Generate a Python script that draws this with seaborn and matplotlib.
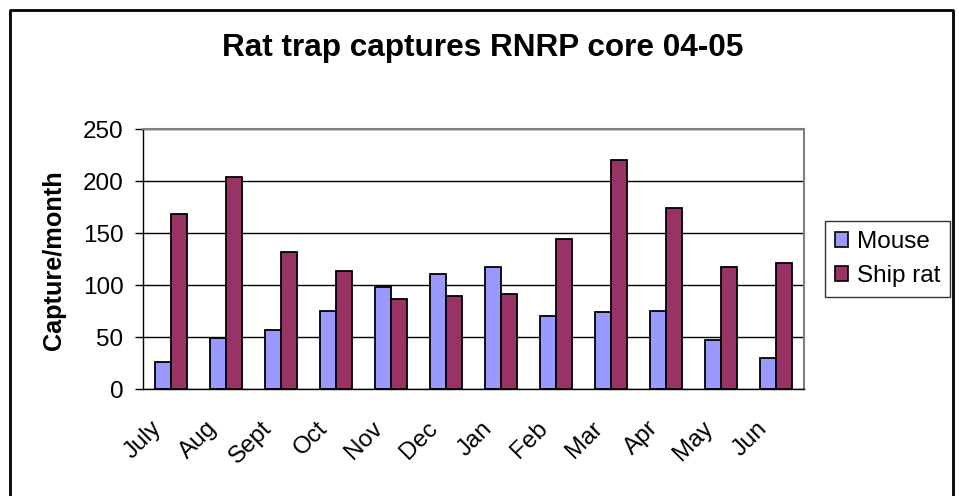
import numpy as np
import pandas as pd
import seaborn as sns
import matplotlib.pyplot as plt
from matplotlib.transforms import ScaledTranslation

# data
months = ['July', 'Aug', 'Sept', 'Oct', 'Nov', 'Dec', 'Jan', 'Feb', 'Mar', 'Apr', 'May', 'Jun']
mouse = [26, 49, 57, 75, 98, 111, 117, 70, 74, 75, 47, 30]
ship_rat = [168, 204, 132, 113, 87, 89, 91, 144, 220, 174, 117, 121]

df = pd.DataFrame({
    'month': months * 2,
    'captures': mouse + ship_rat,
    'species': ['Mouse'] * len(months) + ['Ship rat'] * len(months),
})

sns.set_style('white')
plt.rcParams['font.family'] = ['Liberation Sans', 'DejaVu Sans']
plt.rcParams['text.color'] = 'black'
plt.rcParams['axes.labelcolor'] = 'black'
plt.rcParams['xtick.color'] = 'black'
plt.rcParams['ytick.color'] = 'black'

fig = plt.figure(figsize=(9.59, 4.96), dpi=100)
ax = fig.add_axes([143 / 959, 1 - 389 / 496, 661 / 959, 260 / 496])

sns.barplot(data=df, x='month', y='captures', hue='species', order=months,
            palette={'Mouse': '#9999FF', 'Ship rat': '#993366'},
            width=0.58, edgecolor='black', linewidth=1.3, saturation=1,
            ax=ax, zorder=3)

ax.set_ylim(0, 250)
ax.set_xlim(-0.5, len(months) - 0.5)
ax.set_yticks(range(0, 251, 50))
ax.yaxis.grid(True, color='black', linewidth=1, zorder=0)
ax.set_axisbelow(True)

ax.set_xticks(np.arange(len(months)))
ax.set_xticklabels(months, rotation=45, ha='right', va='center',
                   rotation_mode='anchor', fontsize=17.5)
ax.set_xticks(np.arange(-0.5, len(months)), minor=True)
ax.tick_params(axis='x', which='major', length=0, pad=26)
ax.tick_params(axis='x', which='minor', length=6, width=1, color='black', direction='out')
ax.tick_params(axis='y', length=6, width=1, color='black', direction='out', labelsize=17.5, pad=8)
ax.tick_params(axis='both', bottom=True, left=True)

# nudge the slanted month labels left, like the original
shift = ScaledTranslation(-12 / 100, 0, fig.dpi_scale_trans)
for lbl in ax.get_xticklabels():
    lbl.set_transform(lbl.get_transform() + shift)

for side in ['top', 'right']:
    ax.spines[side].set_color('#808080')
    ax.spines[side].set_linewidth(1.5)
for side in ['left', 'bottom']:
    ax.spines[side].set_color('black')
    ax.spines[side].set_linewidth(1)

ax.set_xlabel('')
ax.set_ylabel('Capture/month', fontsize=18.2, fontweight='bold')
ax.yaxis.label.set_va('center')
ax.yaxis.set_label_coords(54 / 959, 1 - 260 / 496, transform=fig.transFigure)

fig.text(483 / 959, 1 - 48 / 496, 'Rat trap captures RNRP core 04-05',
         ha='center', va='center', fontsize=22.7, fontweight='bold')

leg = ax.legend(loc='center left', bbox_to_anchor=(825 / 959, 1 - 259 / 496),
                bbox_transform=fig.transFigure, frameon=True, fontsize=17.5,
                fancybox=False, edgecolor='black', handlelength=0.55, handleheight=0.55,
                handletextpad=0.35, borderpad=0.4, labelspacing=0.5, borderaxespad=0)
leg.get_frame().set_linewidth(1)
for h in leg.legend_handles:
    h.set_edgecolor('black')
    h.set_linewidth(1.2)

# outer chart border (open at the bottom as in the screenshot)
fig.add_artist(plt.Line2D([10 / 959, 10 / 959, 953 / 959, 953 / 959],
                          [0, 1 - 10 / 496, 1 - 10 / 496, 0],
                          transform=fig.transFigure, color='black', linewidth=2))

fig.savefig('out.png', dpi=100)
